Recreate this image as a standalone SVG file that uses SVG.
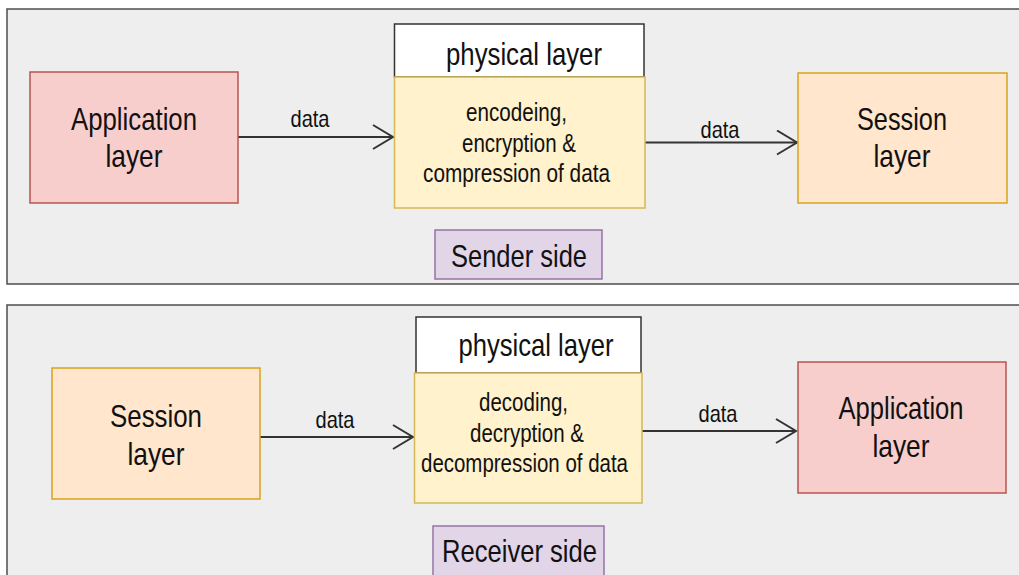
<svg xmlns="http://www.w3.org/2000/svg" width="1019" height="575" viewBox="0 0 1019 575">
<style>
.panel{fill:#eeeeee;stroke:#4d4d4d;stroke-width:1.5}
.app{fill:#f8cecc;stroke:#b85450;stroke-width:1.5}
.ses{fill:#ffe6cc;stroke:#d9a41c;stroke-width:1.5}
.hdr{fill:#ffffff;stroke:#333333;stroke-width:1.5}
.phy{fill:#fff2cc;stroke:#d6b656;stroke-width:1.5}
.side{fill:#e1d5e7;stroke:#9673a6;stroke-width:1.5}
text{font-family:"Liberation Sans",Arial,sans-serif;fill:#111111;text-anchor:middle}
.big{font-size:32px}
.mid{font-size:25px}
.lbl{font-size:24px}
.edge{fill:none;stroke:#333333;stroke-width:2}
</style>
<defs>
<marker id="open" markerUnits="userSpaceOnUse" markerWidth="24" markerHeight="28" refX="21" refY="13" orient="auto">
<path d="M1,1 L21,13 L1,25" fill="none" stroke="#333333" stroke-width="2"/>
</marker>
</defs>
<g id="sender-panel"><rect class="panel" x="7" y="9" width="1030" height="275"/></g>
<g id="receiver-panel"><rect class="panel" x="7" y="305" width="1030" height="290"/></g>

<g id="connectors">
<line class="edge" x1="238" y1="137" x2="393" y2="137" marker-end="url(#open)"/>
<line class="edge" x1="645" y1="142.5" x2="797" y2="142.5" marker-end="url(#open)"/>
<line class="edge" x1="260" y1="437" x2="413" y2="437" marker-end="url(#open)"/>
<line class="edge" x1="642" y1="431" x2="796" y2="431" marker-end="url(#open)"/>
<text class="lbl" x="310" y="127" textLength="39" lengthAdjust="spacingAndGlyphs">data</text>
<text class="lbl" x="720" y="138" textLength="39" lengthAdjust="spacingAndGlyphs">data</text>
<text class="lbl" x="335" y="428" textLength="39" lengthAdjust="spacingAndGlyphs">data</text>
<text class="lbl" x="718" y="422" textLength="39" lengthAdjust="spacingAndGlyphs">data</text>
</g>

<g id="top-application">
<rect class="app" x="30" y="72" width="208" height="131"/>
<text class="big" x="134" y="130" textLength="126" lengthAdjust="spacingAndGlyphs">Application</text>
<text class="big" x="134" y="167" textLength="57" lengthAdjust="spacingAndGlyphs">layer</text>
</g>

<g id="top-physical">
<rect class="hdr" x="394.5" y="24" width="249.5" height="53"/>
<text class="big" x="524" y="65" textLength="156" lengthAdjust="spacingAndGlyphs">physical layer</text>
<rect class="phy" x="394.5" y="77" width="250.5" height="131"/>
<text class="mid" x="516.5" y="121" textLength="101" lengthAdjust="spacingAndGlyphs">encodeing,</text>
<text class="mid" x="519" y="152" textLength="114" lengthAdjust="spacingAndGlyphs">encryption &amp;</text>
<text class="mid" x="516.5" y="182" textLength="187" lengthAdjust="spacingAndGlyphs">compression of data</text>
</g>

<g id="top-session">
<rect class="ses" x="798" y="73" width="209" height="130"/>
<text class="big" x="902" y="130" textLength="90" lengthAdjust="spacingAndGlyphs">Session</text>
<text class="big" x="902" y="167" textLength="57" lengthAdjust="spacingAndGlyphs">layer</text>
</g>

<g id="sender-side">
<rect class="side" x="435" y="230" width="167" height="49"/>
<text class="big" x="519" y="267" textLength="136" lengthAdjust="spacingAndGlyphs">Sender side</text>
</g>

<g id="bottom-session">
<rect class="ses" x="52" y="368" width="208" height="131"/>
<text class="big" x="156" y="427" textLength="92" lengthAdjust="spacingAndGlyphs">Session</text>
<text class="big" x="156" y="465" textLength="57" lengthAdjust="spacingAndGlyphs">layer</text>
</g>

<g id="bottom-physical">
<rect class="hdr" x="416" y="317" width="225" height="56"/>
<text class="big" x="536" y="356" textLength="155" lengthAdjust="spacingAndGlyphs">physical layer</text>
<rect class="phy" x="414.5" y="373" width="227.5" height="130"/>
<text class="mid" x="523.5" y="411" textLength="89" lengthAdjust="spacingAndGlyphs">decoding,</text>
<text class="mid" x="527" y="442" textLength="114" lengthAdjust="spacingAndGlyphs">decryption &amp;</text>
<text class="mid" x="524.5" y="472" textLength="207" lengthAdjust="spacingAndGlyphs">decompression of data</text>
</g>

<g id="bottom-application">
<rect class="app" x="798" y="362" width="208" height="131"/>
<text class="big" x="901" y="419" textLength="125" lengthAdjust="spacingAndGlyphs">Application</text>
<text class="big" x="901" y="457" textLength="57" lengthAdjust="spacingAndGlyphs">layer</text>
</g>

<g id="receiver-side">
<rect class="side" x="433" y="526" width="171" height="60"/>
<text class="big" x="519.5" y="562" textLength="155" lengthAdjust="spacingAndGlyphs">Receiver side</text>
</g>
</svg>
